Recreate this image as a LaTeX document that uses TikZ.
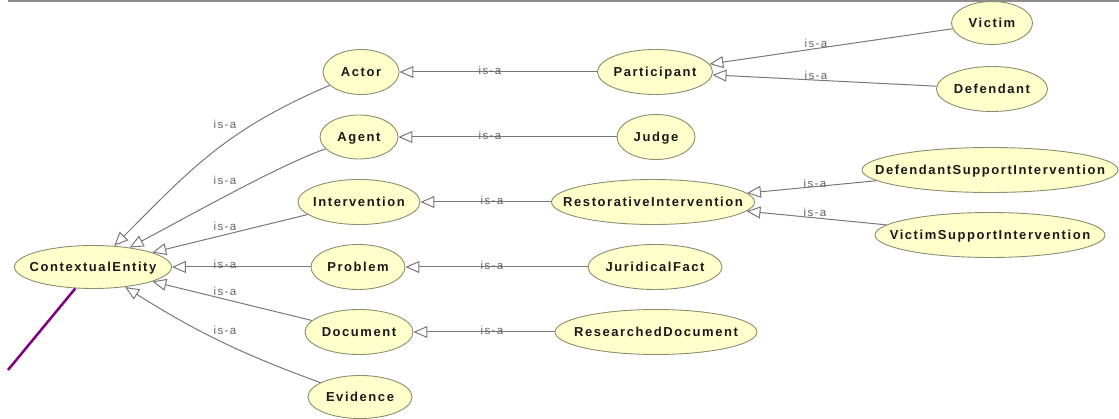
\documentclass[tikz,border=0pt]{standalone}
\usepackage{fontspec}
\setmainfont{Liberation Sans}
\newfontfamily\clsfont[LetterSpace=12]{Liberation Sans}
\newfontfamily\isafont[LetterSpace=12]{Liberation Sans}
\usetikzlibrary{shapes.geometric,arrows.meta}
\definecolor{cfill}{RGB}{255,255,204}
\definecolor{cline}{RGB}{140,140,110}
\definecolor{eline}{RGB}{120,120,120}
\definecolor{ltext}{RGB}{100,100,100}
\definecolor{ctext}{RGB}{25,25,25}
\definecolor{pline}{RGB}{128,0,128}
\definecolor{frameline}{RGB}{140,140,140}
\newcommand\clsname[1]{\makebox[0pt]{#1}}
\tikzset{
 cls/.style args={#1/#2}{ellipse, draw=cline, line width=0.9pt, fill=cfill,
   inner sep=0pt, minimum width=#1pt, minimum height=#2pt,
   text height=9.3pt, text depth=0pt,
   font=\clsfont\bfseries\fontsize{13}{15}\selectfont, text=ctext},
 isa/.style={draw=eline, line width=1pt, -{Triangle[open,length=14pt,width=12pt]}},
 isalab/.style={font=\isafont\fontsize{11.5}{13}\selectfont, text=ltext,
   inner sep=0pt, text height=6pt, text depth=0pt},
 purpleline/.style={draw=pline, line width=2.5pt},
 topline/.style={draw=frameline, line width=2pt},
}
\begin{document}
\begin{tikzpicture}[x=1pt,y=1pt]
\useasboundingbox (0,0) rectangle (1119,-419);
\draw[topline] (8,-1) -- (1119,-1);

% classes
\node[cls=157/43] (ce) at (93,-267) {\clsname{ContextualEntity}};
\node[cls=76/45] (actor) at (361,-72) {\clsname{Actor}};
\node[cls=78/44] (agent) at (359,-137) {\clsname{Agent}};
\node[cls=122/45] (intervention) at (359,-202) {\clsname{Intervention}};
\node[cls=94/45] (problem) at (358,-267) {\clsname{Problem}};
\node[cls=108/45] (document) at (359,-332) {\clsname{Document}};
\node[cls=104/43] (evidence) at (360,-397) {\clsname{Evidence}};
\node[cls=115/45] (participant) at (655,-72) {\clsname{Participant}};
\node[cls=78/45] (judge) at (656,-137) {\clsname{Judge}};
\node[cls=203/45] (ri) at (653,-202) {\clsname{RestorativeIntervention}};
\node[cls=134/45] (jf) at (655,-267) {\clsname{JuridicalFact}};
\node[cls=202/45] (rd) at (656,-332) {\clsname{ResearchedDocument}};
\node[cls=81/43] (victim) at (992,-23) {\clsname{Victim}};
\node[cls=111/45] (defendant) at (992,-89) {\clsname{Defendant}};
\node[cls=256/45] (dsi) at (990,-170) {\clsname{DefendantSupportIntervention}};
\node[cls=230/45] (vsi) at (990,-235) {\clsname{VictimSupportIntervention}};

% purple connector leaving the view
\coordinate (offl) at (8,-370);
\draw[purpleline] (ce) -- (offl);

% is-a edges
\draw[isa] (actor) .. controls (225,-130) and (190,-170) .. (ce);
\draw[isa] (agent) .. controls (280,-165) and (200,-210) .. (ce);
\draw[isa] (intervention) -- (ce);
\draw[isa] (problem) -- (ce);
\draw[isa] (document) -- (ce);
\draw[isa] (evidence) to[bend left=6] (ce);
\draw[isa] (participant) -- (actor);
\draw[isa] (judge) -- (agent);
\draw[isa] (ri) -- (intervention);
\draw[isa] (jf) -- (problem);
\draw[isa] (rd) -- (document);
\draw[isa] (victim) -- (participant);
\draw[isa] (defendant) -- (participant);
\draw[isa] (dsi) -- (ri);
\draw[isa] (vsi) -- (ri);

% labels
\node[isalab] (l1) at (225,-126) {is-a};
\node[isalab] (l2) at (225,-182) {is-a};
\node[isalab] (l3) at (225,-228) {is-a};
\node[isalab] (l4) at (225,-266) {is-a};
\node[isalab] (l5) at (225,-293) {is-a};
\node[isalab] (l6) at (225,-332) {is-a};
\node[isalab] (l7) at (490,-72) {is-a};
\node[isalab] (l8) at (490,-137) {is-a};
\node[isalab] (l9) at (492,-202) {is-a};
\node[isalab] (l10) at (492,-267) {is-a};
\node[isalab] (l11) at (492,-332) {is-a};
\node[isalab] (l12) at (816,-45) {is-a};
\node[isalab] (l13) at (816,-77) {is-a};
\node[isalab] (l14) at (815,-185) {is-a};
\node[isalab] (l15) at (815,-214) {is-a};
\end{tikzpicture}
\end{document}
